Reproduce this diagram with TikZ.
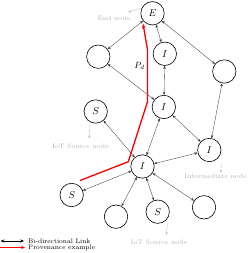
\documentclass[tikz,border=0pt]{standalone}
\usetikzlibrary{arrows.meta}
\begin{document}
\begin{tikzpicture}[x=1pt,y=-1pt,
  nd/.style={circle,draw=black,line width=0.6pt,minimum size=23.4pt,inner sep=0pt,font=\fontsize{10}{12}\selectfont},
  link/.style={draw=black!75,line width=0.35pt,{Stealth[length=3.2pt,width=2.6pt]}-{Stealth[length=3.2pt,width=2.6pt]}},
  glab/.style={text=black!30,font=\fontsize{6.4}{7}\selectfont,inner sep=0.5pt},
  garr/.style={draw=black!25,line width=0.35pt,-{Stealth[length=3pt,width=2.4pt]}},
  prov/.style={draw=red,line width=1.3pt,-{Stealth[length=5pt,width=3.5pt]}},
  leg/.style={font=\fontsize{6.6}{7}\selectfont,inner sep=0.5pt,anchor=west}]
\useasboundingbox (0,0) rectangle (249,253);
% nodes
\node[nd] (E) at (152.5,13.3) {$E$};
\node[nd] (L) at (98.3,56.7) {};
\node[nd] (I1) at (164.8,53.8) {$I$};
\node[nd] (R) at (224.3,71.5) {};
\node[nd] (S1) at (95.7,111.5) {$S$};
\node[nd] (I2) at (163.8,107) {$I$};
\node[nd] (I3) at (209.3,150) {$I$};
\node[nd] (IC) at (142.5,166.5) {$I$};
\node[nd] (S2) at (71.7,195) {$S$};
\node[nd] (B1) at (116,216.7) {};
\node[nd] (S3) at (157.7,211.7) {$S$};
\node[nd] (B2) at (204,207.3) {};
% links
\draw[link] (E) -- (L);
\draw[link] (E) -- (I1);
\draw[link] (E) -- (R);
\draw[link] (L) -- (I2);
\draw[link] (I1) -- (I2);
\draw[link] (R) -- (I3);
\draw[link] (S1) -- (IC);
\draw[link] (I2) -- (IC);
\draw[link] (I2) -- (I3);
\draw[link] (I3) -- (IC);
\draw[link] (IC) -- (S2);
\draw[link] (IC) -- (B1);
\draw[link] (IC) -- (S3);
\draw[link] (IC) -- (B2);
% provenance path
\coordinate (p0) at (80,180.5);
\coordinate (p1) at (128.3,161.7);
\coordinate (p2) at (147.5,101.7);
\coordinate (p3) at (147.5,50);
\coordinate (p4) at (143,23.5);
\draw[prov] (p0) -- (p1) -- (p2) -- (p3) -- (p4);
\node[font=\fontsize{9}{10}\selectfont] (Pd) at (139.5,65.5) {$P_d$};
% gray labels
\node[glab] (lend) at (114,18.3) {End node};
\coordinate (ce) at (140.5,8.2);
\draw[garr] (ce) -- (128,12.2);
\node[glab] (lsrc1) at (80.5,146.3) {IoT Source node};
\coordinate (cs1) at (90,124.5);
\draw[garr] (cs1) -- (89.2,138.5);
\node[glab,anchor=east] (lint) at (247.5,176.7) {Intermediate node};
\coordinate (ci) at (221.3,163.5);
\draw[garr] (ci) -- (220.8,173);
\node[glab] (lsrc2) at (159,242) {IoT Source node};
\coordinate (cs2) at (167.3,224);
\draw[garr] (cs2) -- (166.3,235);
% legend
\coordinate (a0) at (0.5,241);
\coordinate (a1) at (24,241);
\draw[black,line width=0.7pt,{Stealth[length=3.8pt,width=3.2pt]}-{Stealth[length=3.8pt,width=3.2pt]}] (a0) -- (a1);
\node[leg] (t1) at (27.5,241) {Bi-directional Link};
\coordinate (b0) at (0,247.5);
\coordinate (b1) at (25,247.5);
\draw[red,line width=0.7pt,-{Stealth[length=3.8pt,width=3.2pt]}] (b0) -- (b1);
\node[leg] (t2) at (27.5,247.5) {Provenance example};
\end{tikzpicture}
\end{document}
